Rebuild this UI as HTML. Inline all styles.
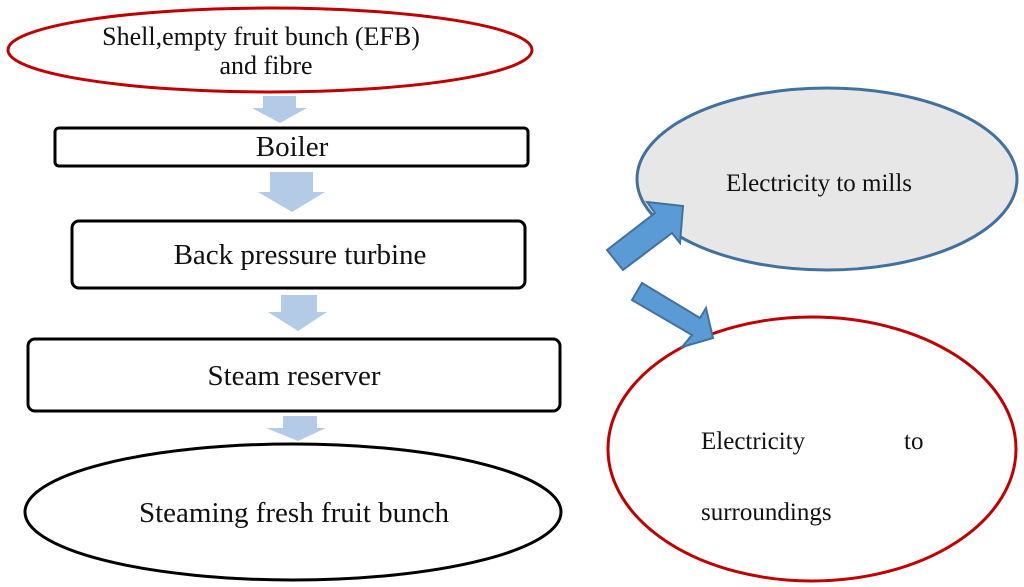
<!DOCTYPE html>
<html><head><style>html,body{margin:0;padding:0;background:#fff;}svg{display:block}</style></head>
<body>
<svg width="1024" height="587" viewBox="0 0 1024 587" xmlns="http://www.w3.org/2000/svg" font-family="Liberation Serif, serif">
<ellipse cx="270" cy="50" rx="262" ry="42" fill="#fff" stroke="#c00000" stroke-width="3"/>
<text x="261" y="45" font-size="26" text-anchor="middle" fill="#111">Shell,empty fruit bunch (EFB)</text>
<text x="266" y="74" font-size="26" text-anchor="middle" fill="#111">and fibre</text>
<polygon points="263,96 296,96 296,108 307,108 280,123 252,108 263,108" fill="#b4cbe8"/>
<rect x="55" y="128" width="473" height="38" rx="4" fill="#fff" stroke="#000" stroke-width="3"/>
<text x="292" y="156" font-size="29" text-anchor="middle" fill="#111">Boiler</text>
<polygon points="270,172 313,172 313,192 325,192 292,212 258,192 270,192" fill="#b4cbe8"/>
<rect x="72" y="221" width="453" height="67" rx="7" fill="#fff" stroke="#000" stroke-width="3"/>
<text x="300" y="264" font-size="29" text-anchor="middle" fill="#111">Back pressure turbine</text>
<polygon points="281,295 317,295 317,312 327,312 298,331 268,312 281,312" fill="#b4cbe8"/>
<rect x="28" y="339" width="532" height="72" rx="7" fill="#fff" stroke="#000" stroke-width="3"/>
<text x="294" y="385" font-size="29" text-anchor="middle" fill="#111">Steam reserver</text>
<polygon points="283,416 317,416 317,428 326,428 298,441 266,428 283,428" fill="#b4cbe8"/>
<ellipse cx="293" cy="512" rx="268" ry="68" fill="#fff" stroke="#000" stroke-width="3"/>
<text x="294" y="522" font-size="29" text-anchor="middle" fill="#111">Steaming fresh fruit bunch</text>
<ellipse cx="827" cy="179" rx="190" ry="91" fill="#e7e7e7" stroke="#41719c" stroke-width="3"/>
<text x="819" y="191" font-size="25" text-anchor="middle" fill="#111">Electricity to mills</text>
<ellipse cx="812" cy="449" rx="204" ry="132" fill="#fff" stroke="#c00000" stroke-width="3"/>
<text x="701" y="449" font-size="25" fill="#111">Electricity</text>
<text x="904" y="449" font-size="25" fill="#111">to</text>
<text x="701" y="520" font-size="25" fill="#111">surroundings</text>
<polygon points="607,250 655,213 647,202 683,206 680,243 672,233 623,270" fill="#5b9bd5" stroke="#41719c" stroke-width="2"/>
<polygon points="642,283 700,318 706,308 713,338 682,347 692,335 632,300" fill="#5b9bd5" stroke="#41719c" stroke-width="2"/>
</svg>
</body></html>
